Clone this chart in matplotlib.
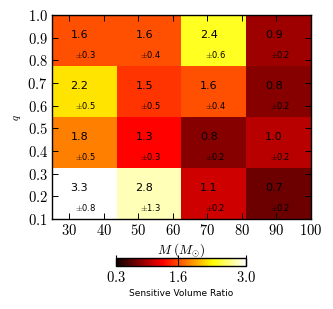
import numpy as np
import matplotlib
matplotlib.use("Agg")
import matplotlib.pyplot as plt
from matplotlib.ticker import FuncFormatter

plt.rcParams['mathtext.fontset'] = 'cm'
plt.rcParams['font.family'] = ['DejaVu Sans']

# Bin edges
mass_edges = [25, 43.75, 62.5, 81.25, 100]
q_edges = [0.1, 0.325, 0.55, 0.775, 1.0]

# Sensitive volume ratio, rows from low q to high q
ratio = np.array([
    [3.3, 2.8, 1.1, 0.7],
    [1.8, 1.3, 0.8, 1.0],
    [2.2, 1.5, 1.6, 0.8],
    [1.6, 1.6, 2.4, 0.9],
])
ratio_err = np.array([
    [0.8, 1.3, 0.2, 0.2],
    [0.5, 0.3, 0.2, 0.2],
    [0.5, 0.5, 0.4, 0.2],
    [0.3, 0.4, 0.6, 0.2],
])

xticks = [30, 40, 50, 60, 70, 80, 90, 100]
yticks = [0.1, 0.2, 0.3, 0.4, 0.5, 0.6, 0.7, 0.8, 0.9, 1.0]
cbar_ticks = [0.3, 1.6, 3.0]

fig = plt.figure(figsize=(3.33, 3.09), dpi=100)
ax = fig.add_axes([0.156, 0.291, 0.778, 0.660])

mesh = ax.pcolormesh(mass_edges, q_edges, ratio, cmap='hot', vmin=0.3, vmax=3.0)

# value and error text in each cell
for i in range(4):
    for j in range(4):
        x0 = mass_edges[j]
        y0 = q_edges[i]
        ax.text(x0 + 5.4, y0 + 0.137, '%.1f' % ratio[i, j], fontsize=8,
                va='center', ha='left', color='black')
        ax.text(x0 + 6.8, y0 + 0.05, r'$\pm$%.1f' % ratio_err[i, j], fontsize=6,
                va='center', ha='left', color='black')

ax.set_xlim(25, 100)
ax.set_ylim(0.1, 1.0)
ax.set_xticks(xticks)
ax.set_yticks(yticks)
ax.xaxis.set_major_formatter(FuncFormatter(lambda v, p: r'$%d$' % v))
ax.yaxis.set_major_formatter(FuncFormatter(lambda v, p: r'$%.1f$' % v))
ax.tick_params(direction='in', top=True, right=True, length=4.3, width=0.7,
               labelsize=10.5, pad=3)
ax.set_xlabel(r'$M\ (M_{\odot})$', fontsize=9.5, labelpad=2)
ax.set_ylabel(r'$q$', fontsize=8, labelpad=3)
for s in ax.spines.values():
    s.set_linewidth(1.0)

cax = fig.add_axes([0.348, 0.139, 0.390, 0.026])
cb = fig.colorbar(mesh, cax=cax, orientation='horizontal', ticks=cbar_ticks)
cb.ax.xaxis.set_major_formatter(FuncFormatter(lambda v, p: r'$%.1f$' % v))
cb.ax.tick_params(direction='in', length=8, width=0.8, labelsize=10.5, pad=3)
cb.outline.set_linewidth(1.0)
cb.set_label('Sensitive Volume Ratio', fontsize=6.5, labelpad=3)

fig.savefig('out.png', dpi=100)
